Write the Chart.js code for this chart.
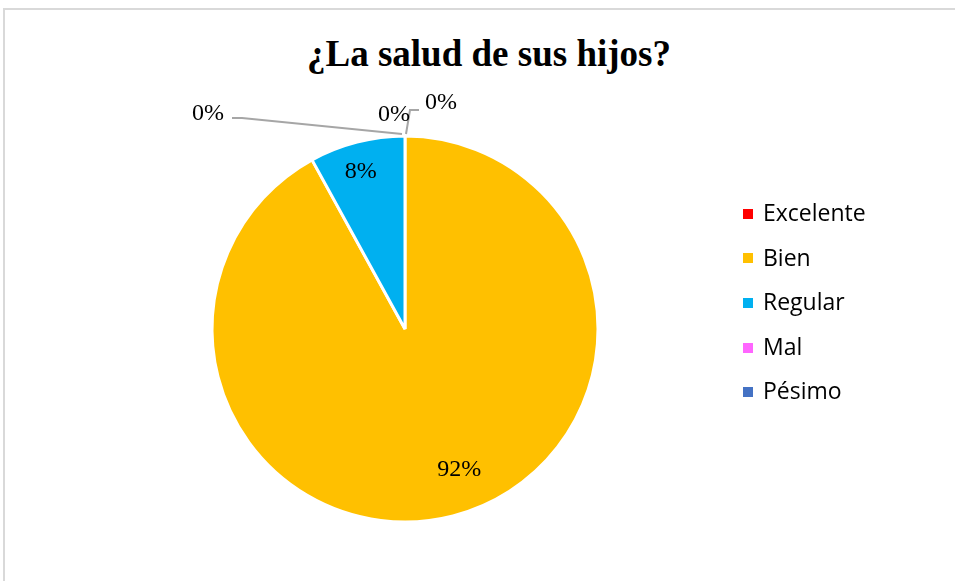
<!DOCTYPE html>
<html lang="es">
<head>
<meta charset="utf-8">
<title>¿La salud de sus hijos?</title>
<script src="https://cdn.jsdelivr.net/npm/chart.js@4.4.1/dist/chart.umd.min.js"></script>
<style>
    html, body {
        margin: 0;
        padding: 0;
        width: 955px;
        height: 581px;
        overflow: hidden;
        background: #fff;
    }
    #frame {
        position: absolute;
        left: 3px;
        top: 8px;
        width: 1000px;
        height: 700px;
        border-left: 2px solid #d9d9d9;
        border-top: 2px solid #d9d9d9;
    }
    #title {
        position: absolute;
        left: 0;
        top: 34px;
        width: 978px;
        margin: 0;
        text-align: center;
        font-family: 'Liberation Serif', 'Times New Roman', serif;
        font-weight: bold;
        font-size: 37px;
        line-height: 40px;
        color: #000;
    }
    #pie {
        position: absolute;
        left: 0;
        top: 0;
    }
    #legend {
        position: absolute;
        left: 743px;
        top: 190px;
        margin: 0;
        padding: 0;
        list-style: none;
        font-family: 'Open Sans', sans-serif;
        font-size: 23px;
        color: #000;
    }
    #legend li {
        height: 44.6px;
        line-height: 44px;
        white-space: nowrap;
    }
    #legend .swatch {
        display: inline-block;
        width: 10px;
        height: 10px;
        margin-right: 10px;
        vertical-align: middle;
        position: relative;
        top: -1px;
    }
</style>
</head>
<body>
<div id="frame"></div>
<h1 id="title">¿La salud de sus hijos?</h1>
<canvas id="pie" width="955" height="581"></canvas>
<ul id="legend"></ul>
<script>
const categories = ['Excelente', 'Bien', 'Regular', 'Mal', 'Pésimo'];
const percentages = [0, 92, 8, 0, 0];
const sliceColors = ['#ff0000', '#ffc000', '#00b0f0', '#ff66ff', '#4472c4'];

// where the "0%" labels sit, relative to the point where the empty slice
// touches the rim, plus the gray leader line drawn towards it
const zeroLabels = {
    0: { dx: 36, dy: -33, leader: [[14, -26], [5, -26], [1, -2]] },
    3: { dx: -11, dy: -21, leader: null },
    4: { dx: -197, dy: -22, leader: [[-173, -18], [-163, -18], [-3, -2]] },
};
// small shifts for the labels inside the slices
const labelNudge = { 1: [14, -16], 2: [-4, 0] };

/**
 * Writes the percentage of every slice, inside it when it has a size,
 * outside with a leader line when it is empty
 */
const pieLabels = {
    id: 'pieLabels',
    afterDatasetsDraw(chart) {
        const ctx = chart.ctx;
        const values = chart.data.datasets[0].data;
        const total = values.reduce((a, b) => a + b, 0);
        ctx.save();
        ctx.font = '24px "Liberation Serif", "Times New Roman", serif';
        ctx.fillStyle = '#000';
        ctx.textAlign = 'center';
        ctx.textBaseline = 'middle';
        chart.getDatasetMeta(0).data.forEach((arc, i) => {
            const { x, y, startAngle, endAngle, outerRadius } = arc.getProps(
                ['x', 'y', 'startAngle', 'endAngle', 'outerRadius'],
                true
            );
            const text = Math.round((values[i] / total) * 100) + '%';
            if (values[i] > 0) {
                const mid = (startAngle + endAngle) / 2;
                const nudge = labelNudge[i] || [0, 0];
                const r = outerRadius * 0.84;
                ctx.fillText(
                    text,
                    x + Math.cos(mid) * r + nudge[0],
                    y + Math.sin(mid) * r + nudge[1]
                );
                return;
            }
            const spot = zeroLabels[i];
            if (!spot) return;
            const ax = x + Math.cos(startAngle) * outerRadius;
            const ay = y + Math.sin(startAngle) * outerRadius;
            if (spot.leader) {
                ctx.strokeStyle = '#a6a6a6';
                ctx.lineWidth = 2;
                ctx.beginPath();
                spot.leader.forEach(([px, py], k) => {
                    if (k === 0) ctx.moveTo(ax + px, ay + py);
                    else ctx.lineTo(ax + px, ay + py);
                });
                ctx.stroke();
            }
            ctx.fillText(text, ax + spot.dx, ay + spot.dy);
        });
        ctx.restore();
    },
};

const chart = new Chart('pie', {
    type: 'pie',
    data: {
        labels: categories,
        datasets: [
            {
                data: percentages,
                backgroundColor: sliceColors,
                borderColor: '#ffffff',
                borderWidth: 3,
            },
        ],
    },
    options: {
        responsive: false,
        animation: false,
        radius: 193,
        layout: {
            padding: { left: 105, right: 250, top: 89, bottom: 12 },
        },
        plugins: {
            legend: { display: false },
            title: { display: false },
            tooltip: { enabled: false },
        },
    },
    plugins: [pieLabels],
});

// legend next to the pie, built from the chart's own legend items
const legendList = document.getElementById('legend');
chart.options.plugins.legend.labels.generateLabels(chart).forEach((item) => {
    const li = document.createElement('li');
    const swatch = document.createElement('span');
    swatch.className = 'swatch';
    swatch.style.background = item.fillStyle;
    li.appendChild(swatch);
    li.appendChild(document.createTextNode(item.text));
    legendList.appendChild(li);
});
</script>
</body>
</html>
